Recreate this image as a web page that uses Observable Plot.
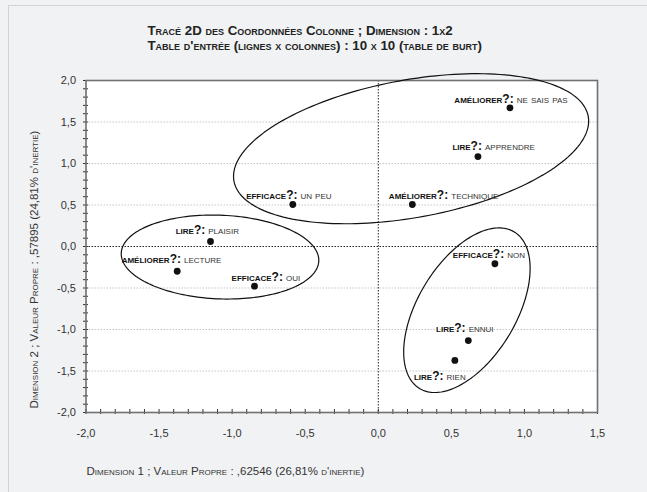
<!DOCTYPE html>
<html>
<head>
<meta charset="utf-8">
<script src="https://cdn.jsdelivr.net/npm/d3@7"></script>
<script src="https://cdn.jsdelivr.net/npm/@observablehq/plot@0.6"></script>
<style>
  html, body { margin: 0; padding: 0; background: #f1f2f4; width: 647px; height: 492px; overflow: hidden; }
  #border { position: absolute; left: 8px; top: 5px; width: 700px; height: 600px; border-left: 1px solid #d2d3d6; border-top: 1px solid #d2d3d6; }
  #chart { position: absolute; left: 0; top: 0; }
  tspan.var { font-weight: 700; fill: #111; }
  tspan.q { font-weight: 700; fill: #111; font-size: 12px; font-variant: normal; }
  tspan.mod { font-weight: 400; fill: #333; }
</style>
</head>
<body>
<div id="border"></div>
<div id="chart"></div>
<script>
// ---- Data ----
const variables = ["améliorer", "lire", "efficace", "améliorer", "lire", "améliorer", "efficace", "efficace", "lire", "lire"];
const modalities = ["ne sais pas", "apprendre", "un peu", "technique", "plaisir", "lecture", "oui", "non", "ennui", "rien"];
const dim1 = [0.901, 0.682, -0.585, 0.233, -1.148, -1.376, -0.847, 0.798, 0.616, 0.524];
const dim2 = [1.671, 1.084, 0.506, 0.506, 0.060, -0.298, -0.478, -0.208, -1.133, -1.373];
// label anchor (center / baseline) in data units
const labelX = [0.908, 0.789, -0.612, 0.447, -1.170, -1.415, -0.769, 0.757, 0.592, 0.421];
const labelY = [1.727, 1.157, 0.575, 0.575, 0.153, -0.201, -0.410, -0.136, -1.033, -1.606];

// group ellipses (center, half extents, tilt correlation) in data units
const ellipseCx = [0.2245, -1.083, 0.6064];
const ellipseCy = [1.178, -0.127, -0.7675];
const ellipseRx = [1.215, 0.676, 0.4326];
const ellipseRy = [0.904, 0.506, 0.9916];
const ellipseRho = [0.368, -0.077, 0.5075];

const xTicks = [-2.0, -1.5, -1.0, -0.5, 0.0, 0.5, 1.0, 1.5];
const yTicks = [-2.0, -1.5, -1.0, -0.5, 0.0, 0.5, 1.0, 1.5, 2.0];
const yGrid = [-1.5, -1.0, -0.5, 0.5, 1.0, 1.5];

const titleLines = [
  "Tracé 2D des Coordonnées Colonne ; Dimension : 1x2",
  "Table d'entrée (lignes x colonnes) : 10 x 10 (table de burt)"
];
const xTitle = "Dimension 1 ; Valeur Propre : ,62546 (26,81% d'inertie)";
const yTitle = "Dimension 2 ; Valeur Propre : ,57895 (24,81% d'inertie)";

// ---- Derived tables ----
const points = dim1.map((x, i) => ({
  x, y: dim2[i], lx: labelX[i], ly: labelY[i],
  label: `${variables[i]}?: ${modalities[i]}`
}));

const ellipsePts = [];
ellipseCx.forEach((cx, k) => {
  const rx = ellipseRx[k], ry = ellipseRy[k], rho = ellipseRho[k];
  const s = Math.sqrt(1 - rho * rho);
  for (let j = 0; j <= 180; j++) {
    const t = (j / 180) * 2 * Math.PI;
    ellipsePts.push({
      id: k,
      x: cx + rx * Math.cos(t),
      y: ellipseCy[k] + ry * (rho * Math.cos(t) + s * Math.sin(t))
    });
  }
});

const minorX = d3.range(-20, 16).map(d => d / 10);
const minorY = d3.range(-20, 21).map(d => d / 10);
const fmt = d => d.toFixed(1).replace(".", ",");

const FONT = "'Liberation Sans', Arial, Helvetica, sans-serif";

const svg = Plot.plot({
  width: 647,
  height: 492,
  marginLeft: 85.5,
  marginRight: 50,
  marginTop: 80,
  marginBottom: 80,
  x: { domain: [-2, 1.5] },
  y: { domain: [-2, 2] },
  style: { background: "transparent", fontFamily: FONT, fontSize: "11px", color: "#333", overflow: "visible" },
  marks: [
    Plot.frame({ fill: "white" }),
    Plot.ruleY(yGrid, { stroke: "#b8b8b8", strokeDasharray: "1.5,1.5", strokeWidth: 0.8 }),
    Plot.ruleY([0], { stroke: "#222", strokeDasharray: "1.5,1.5", strokeWidth: 1 }),
    Plot.ruleX([0], { stroke: "#222", strokeDasharray: "1.5,1.5", strokeWidth: 1 }),
    // minor/major tick marks crossing the axes
    Plot.axisX(minorX, { tickSize: 5, dy: -3, fill: "none", stroke: "#333", tickFormat: () => "", label: null }),
    Plot.axisY(minorY, { tickSize: 5, dx: 2.5, fill: "none", stroke: "#333", tickFormat: () => "", label: null }),
    Plot.axisX(xTicks, { tickSize: 0, tickPadding: 17, tickFormat: fmt, fill: "#333", label: null, fontSize: 11 }),
    Plot.axisY(yTicks, { tickSize: 0, tickPadding: 10, tickFormat: fmt, fill: "#333", label: null, fontSize: 11 }),
    Plot.frame({ stroke: "#707070", strokeWidth: 1.6 }),
    Plot.line(ellipsePts, { x: "x", y: "y", z: "id", stroke: "#111", strokeWidth: 1.2, curve: "linear" }),
    Plot.dot(points, { x: "x", y: "y", r: 3.4, fill: "#111", stroke: "none" }),
    Plot.text(points, {
      x: "lx", y: "ly", text: "label",
      textAnchor: "middle", lineAnchor: "bottom", fontSize: 11, fontVariant: "small-caps", fill: "#333"
    }),
    // titles
    Plot.text([titleLines[0]], {
      frameAnchor: "top-left", dx: 61.5, dy: -45.5, text: d => d, textAnchor: "start", lineAnchor: "bottom",
      fontSize: 13.3, fontWeight: "bold", fontVariant: "small-caps", fill: "#222"
    }),
    Plot.text([titleLines[1]], {
      frameAnchor: "top-left", dx: 61.5, dy: -30.5, text: d => d, textAnchor: "start", lineAnchor: "bottom",
      fontSize: 13.3, fontWeight: "bold", fontVariant: "small-caps", fill: "#222"
    }),
    Plot.text([xTitle], {
      frameAnchor: "bottom-left", dx: 0.5, dy: 62, text: d => d, textAnchor: "start", lineAnchor: "bottom",
      fontSize: 11.5, fontVariant: "small-caps", fill: "#333"
    }),
    Plot.text([yTitle], {
      frameAnchor: "bottom-left", dx: -52, dy: -4, rotate: -90, text: d => d, textAnchor: "start", lineAnchor: "middle",
      fontSize: 11.5, fontVariant: "small-caps", fill: "#333"
    })
  ]
});

// rich text for point labels: bold variable name, large "?:", regular modality
d3.select(svg).selectAll("text").each(function () {
  const s = this.textContent;
  const k = s.indexOf("?:");
  if (k < 0 || this.children.length) return;
  const a = s.slice(0, k), b = s.slice(k + 2);
  this.textContent = "";
  const t = d3.select(this);
  t.append("tspan").attr("class", "var").text(a);
  t.append("tspan").attr("class", "q").text("?:");
  t.append("tspan").attr("class", "mod").text(b);
});

document.getElementById("chart").appendChild(svg);
</script>
</body>
</html>
